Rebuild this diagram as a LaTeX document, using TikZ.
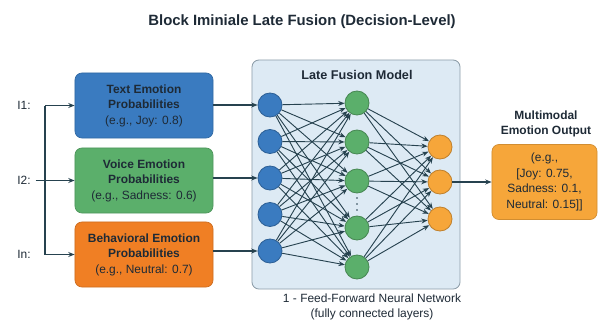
\documentclass[tikz,border=0pt]{standalone}
\usepackage{fontspec}
\setmainfont{Liberation Sans}
\usepackage{tikz}
\usetikzlibrary{positioning}
\usetikzlibrary{arrows.meta}
\definecolor{txtblue}{HTML}{3A7BC0}
\definecolor{vcegreen}{HTML}{5BAF6B}
\definecolor{behorange}{HTML}{F07F24}
\definecolor{outorange}{HTML}{F6A63A}
\definecolor{panelfill}{HTML}{DDEAF4}
\definecolor{paneldraw}{HTML}{8C9CA8}
\definecolor{edgecol}{HTML}{26424F}
\definecolor{textdark}{HTML}{1E2A36}
\tikzset{probbox/.style={rounded corners=5pt, minimum width=3.45cm, minimum height=1.625cm, align=center, text=textdark, fill=#1, draw=#1!85!black, line width=0.5pt}}
\tikzset{neuron/.style={circle, minimum size=0.6cm, inner sep=0pt, fill=#1, draw=#1!78!black, line width=0.6pt}}
\tikzset{edge/.style={->, draw=edgecol, line width=0.65pt}}
\tikzset{link/.style={->, draw=edgecol, line width=0.75pt}}

\begin{document}
\begin{tikzpicture}[x=0.025cm,y=-0.025cm, font=\fontsize{8.5}{11}\selectfont, >={Stealth[length=4.5pt,width=3.5pt]}]
\useasboundingbox (0,0) rectangle (604,324);
\node[font=\fontsize{10.6}{13}\selectfont\bfseries, text=textdark] (title) at (302,22) {Block Iminiale Late Fusion (Decision-Level)};

\node[probbox=txtblue] (txtbox) at (144,105.5) {\textbf{Text Emotion}\\\textbf{Probabilities}\\(e.g., Joy: 0.8)};
\node[probbox=vcegreen] (vcebox) at (144,180.5) {\textbf{Voice Emotion}\\\textbf{Probabilities}\\(e.g., Sadness: 0.6)};
\node[probbox=behorange] (behbox) at (144,254.5) {\textbf{Behavioral Emotion}\\\textbf{Probabilities}\\(e.g., Neutral: 0.7)};

\node[text=textdark] (lblone) at (24,105.5) {I1:};
\node[text=textdark] (lbltwo) at (24,180.5) {I2:};
\node[text=textdark] (lbln) at (24,254.5) {In:};
\coordinate (jtop) at (45,105.5);
\coordinate (jbot) at (45,254.5);
\draw[edgecol, line width=0.75pt] (jtop) -- (jbot);
\draw[link] (jtop) -- (txtbox.west);
\draw[link] (lbltwo.east) -- (vcebox.west);
\draw[link] (jbot) -- (behbox.west);

\node[rounded corners=5pt, minimum width=5.2cm, minimum height=5.725cm, fill=panelfill, draw=paneldraw, line width=0.6pt] (panel) at (356,174.5) {};
\node[font=\fontsize{9}{11}\selectfont\bfseries, text=textdark] (paneltitle) at (357,75) {Late Fusion Model};

\foreach \y [count=\i from 0] in {105,141.5,178,214.5,251} {
\node[neuron=txtblue] (in\i) at (270,\y) {};
}
\foreach \y [count=\i from 0] in {103,142,181,228,267} {
\node[neuron=vcegreen] (h\i) at (357,\y) {};
}
\foreach \y [count=\i from 0] in {147,182,219} {
\node[neuron=outorange] (o\i) at (440,\y) {};
}
% dots between hidden units
\foreach \y in {198,204,210} {
\fill[edgecol] (357,\y) circle (0.6pt);
}

\foreach \i in {0,...,4} {
\foreach \j in {0,...,4} {
\draw[edge] (in\i) -- (h\j);
}
}
\foreach \j in {0,...,4} {
\foreach \k in {0,...,2} {
\draw[edge] (h\j) -- (o\k);
}
}

\draw[link] (txtbox.east |- in0) -- (in0.west);
\draw[link] (vcebox.east |- in2) -- (in2.west);
\draw[link] (behbox.east |- in4) -- (in4.west);

\node[rounded corners=5pt, minimum width=2.625cm, minimum height=1.875cm, align=center, text=textdark, fill=outorange, draw=outorange!85!black, line width=0.5pt] (outbox) at (544.5,182) {(e.g.,\\{[}Joy: 0.75,\\Sadness: 0.1,\\Neutral: 0.15]]};
\node[font=\fontsize{8.5}{11}\selectfont\bfseries, align=center, text=textdark] (outtitle) at (546,124) {Multimodal\\Emotion Output};
\draw[link] (o1) -- (outbox.west |- o1);

\node[align=center, text=textdark] (caption) at (372,307) {1 - Feed-Forward Neural Network\\(fully connected layers)};
\end{tikzpicture}
\end{document}
